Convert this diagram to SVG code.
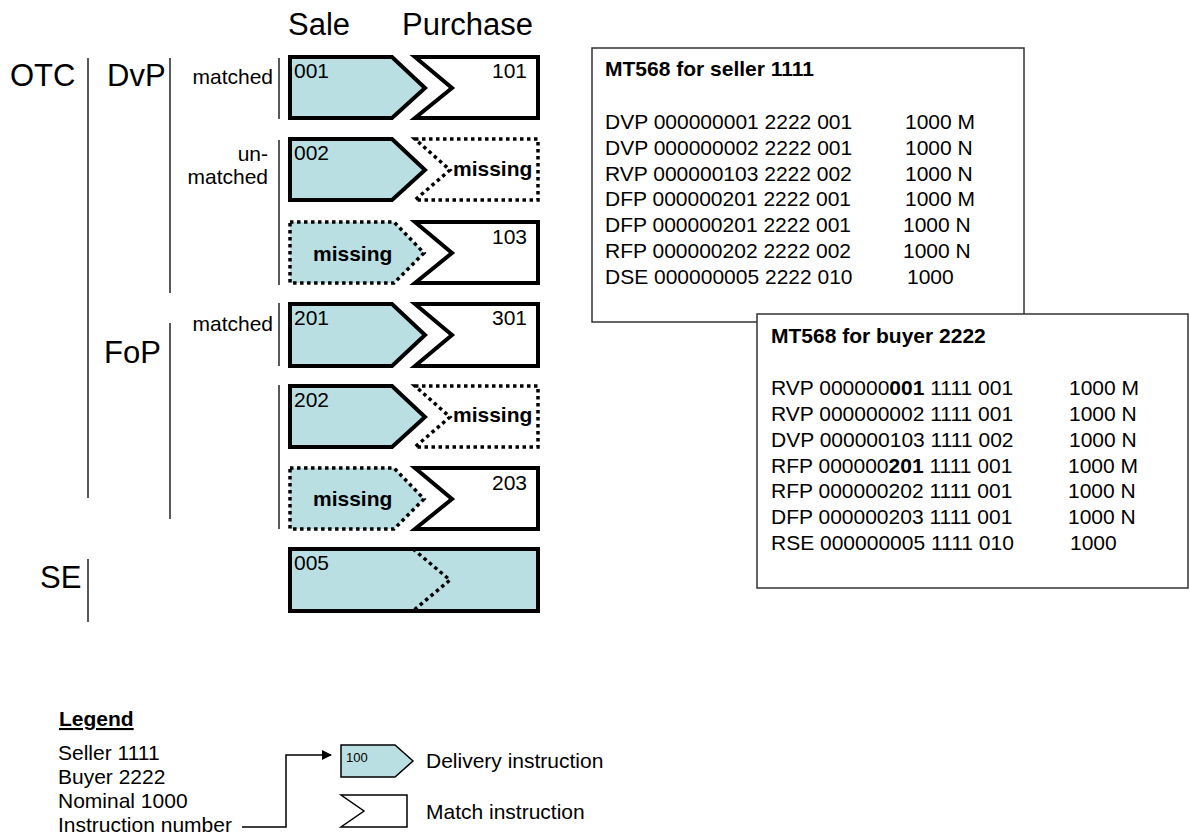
<svg xmlns="http://www.w3.org/2000/svg" width="1190" height="839" viewBox="0 0 1190 839">
<defs>
<style>
text{font-family:"Liberation Sans",Arial,sans-serif;fill:#000}
.big{font-size:31px}
.md{font-size:21px}
.b{font-weight:bold}
.sep{stroke:#222;stroke-width:1.5;fill:none}
.del{fill:#BADFE2;stroke:#000;stroke-width:4;stroke-linejoin:miter}
.mat{fill:#fff;stroke:#000;stroke-width:4;stroke-linejoin:miter}
.dot{stroke:#000;stroke-width:3.5;stroke-dasharray:3.5 3.5}
.delDot{fill:#BADFE2}
.matDot{fill:#fff}
.box{fill:#fff;stroke:#333;stroke-width:1.5}
.thin{stroke:#000;stroke-width:1.5}
</style>
<marker id="arr" markerWidth="10" markerHeight="10" refX="9" refY="5" orient="auto" markerUnits="userSpaceOnUse">
<path d="M0,0 L10,5 L0,10 Z" fill="#000"/>
</marker>
</defs>

<g id="headers">
<text class="big" x="288" y="35">Sale</text>
<text class="big" x="402" y="35">Purchase</text>
</g>

<g id="categories">
<text class="big" x="10" y="86">OTC</text>
<text class="big" x="107" y="86">DvP</text>
<text class="big" x="104" y="363">FoP</text>
<text class="big" x="40" y="588">SE</text>
<text class="md" x="273" y="84" text-anchor="end">matched</text>
<text class="md" x="268" y="161" text-anchor="end">un-</text>
<text class="md" x="268" y="184" text-anchor="end">matched</text>
<text class="md" x="273" y="331" text-anchor="end">matched</text>
<line class="sep" x1="88" y1="58" x2="88" y2="498"/>
<line class="sep" x1="170" y1="58" x2="170" y2="293"/>
<line class="sep" x1="170" y1="323" x2="170" y2="519"/>
<line class="sep" x1="279" y1="58" x2="279" y2="119"/>
<line class="sep" x1="279" y1="140" x2="279" y2="285"/>
<line class="sep" x1="279" y1="303" x2="279" y2="366"/>
<line class="sep" x1="279" y1="385" x2="279" y2="529"/>
<line class="sep" x1="88" y1="559" x2="88" y2="622"/>
</g>

<g id="row-001">
<polygon class="del" points="290,57 392,57 425,88 392,118 290,118"/>
<text class="md" x="294" y="78">001</text>
<polygon class="mat" points="415,57 538,57 538,118 415,118 452,88"/>
<text class="md" x="527" y="78" text-anchor="end">101</text>
</g>

<g id="row-002">
<polygon class="del" points="290,139 392,139 425,170 392,200 290,200"/>
<text class="md" x="294" y="160">002</text>
<polygon class="matDot dot" points="415,139 538,139 538,200 415,200 450,170"/>
<text class="md b" x="453" y="176">missing</text>
</g>

<g id="row-103">
<polygon class="delDot dot" points="290,222 394,222 424,253 394,283 290,283"/>
<text class="md b" x="313" y="261">missing</text>
<polygon class="mat" points="415,222 538,222 538,283 415,283 452,253"/>
<text class="md" x="527" y="244" text-anchor="end">103</text>
</g>

<g id="row-201">
<polygon class="del" points="290,304 392,304 425,335 392,366 290,366"/>
<text class="md" x="294" y="325">201</text>
<polygon class="mat" points="415,304 538,304 538,366 415,366 452,335"/>
<text class="md" x="527" y="325" text-anchor="end">301</text>
</g>

<g id="row-202">
<polygon class="del" points="290,386 392,386 425,417 392,447 290,447"/>
<text class="md" x="294" y="407">202</text>
<polygon class="matDot dot" points="415,386 538,386 538,447 415,447 450,417"/>
<text class="md b" x="453" y="422">missing</text>
</g>

<g id="row-203">
<polygon class="delDot dot" points="290,468 394,468 424,499 394,529 290,529"/>
<text class="md b" x="313" y="506">missing</text>
<polygon class="mat" points="415,468 538,468 538,529 415,529 452,499"/>
<text class="md" x="527" y="490" text-anchor="end">203</text>
</g>

<g id="row-005">
<rect class="del" x="290" y="549" width="248" height="62"/>
<polyline class="dot" fill="none" points="413,549 450,580 413,611"/>
<text class="md" x="294" y="570">005</text>
</g>

<g id="mt568-seller">
<rect class="box" x="592" y="48" width="432" height="274"/>
<text class="md b" x="605" y="76">MT568 for seller 1111</text>
<text class="md" x="605" y="129">DVP 000000001 2222 001</text><text class="md" x="905" y="129">1000 M</text>
<text class="md" x="605" y="155">DVP 000000002 2222 001</text><text class="md" x="905" y="155">1000 N</text>
<text class="md" x="605" y="181">RVP 000000103 2222 002</text><text class="md" x="905" y="181">1000 N</text>
<text class="md" x="605" y="206">DFP 000000201 2222 001</text><text class="md" x="905" y="206">1000 M</text>
<text class="md" x="605" y="232">DFP 000000201 2222 001</text><text class="md" x="903" y="232">1000 N</text>
<text class="md" x="605" y="258">RFP 000000202 2222 002</text><text class="md" x="903" y="258">1000 N</text>
<text class="md" x="605" y="284">DSE 000000005 2222 010</text><text class="md" x="907" y="284">1000</text>
</g>

<g id="mt568-buyer">
<rect class="box" x="757" y="314" width="431" height="274"/>
<text class="md b" x="771" y="343">MT568 for buyer 2222</text>
<text class="md" x="771" y="395">RVP 000000<tspan class="b">001</tspan> 1111 001</text><text class="md" x="1069" y="395">1000 M</text>
<text class="md" x="771" y="421">RVP 000000002 1111 001</text><text class="md" x="1069" y="421">1000 N</text>
<text class="md" x="771" y="447">DVP 000000103 1111 002</text><text class="md" x="1069" y="447">1000 N</text>
<text class="md" x="771" y="473">RFP 000000<tspan class="b">201</tspan> 1111 001</text><text class="md" x="1068" y="473">1000 M</text>
<text class="md" x="771" y="498">RFP 000000202 1111 001</text><text class="md" x="1068" y="498">1000 N</text>
<text class="md" x="771" y="524">DFP 000000203 1111 001</text><text class="md" x="1068" y="524">1000 N</text>
<text class="md" x="771" y="550">RSE 000000005 1111 010</text><text class="md" x="1070" y="550">1000</text>
</g>

<g id="legend">
<text class="md b" x="59" y="726" text-decoration="underline">Legend</text>
<text class="md" x="58" y="760">Seller 1111</text>
<text class="md" x="58" y="784">Buyer 2222</text>
<text class="md" x="58" y="808">Nominal 1000</text>
<text class="md" x="58" y="832">Instruction number</text>
</g>

<g id="legend-delivery">
<polygon fill="#BADFE2" class="thin" points="341,745 395,745 413,761 395,777 341,777"/>
<text x="346" y="762" font-size="13">100</text>
<text class="md" x="426" y="768">Delivery instruction</text>
</g>

<g id="legend-match">
<polygon fill="#fff" class="thin" points="341,795 407,795 407,827 341,827 364,811"/>
<text class="md" x="426" y="819">Match instruction</text>
</g>

<g id="connectors">
<polyline fill="none" stroke="#000" stroke-width="1.5" points="242,827 286,827 286,755 331,755" marker-end="url(#arr)"/>
</g>
</svg>
